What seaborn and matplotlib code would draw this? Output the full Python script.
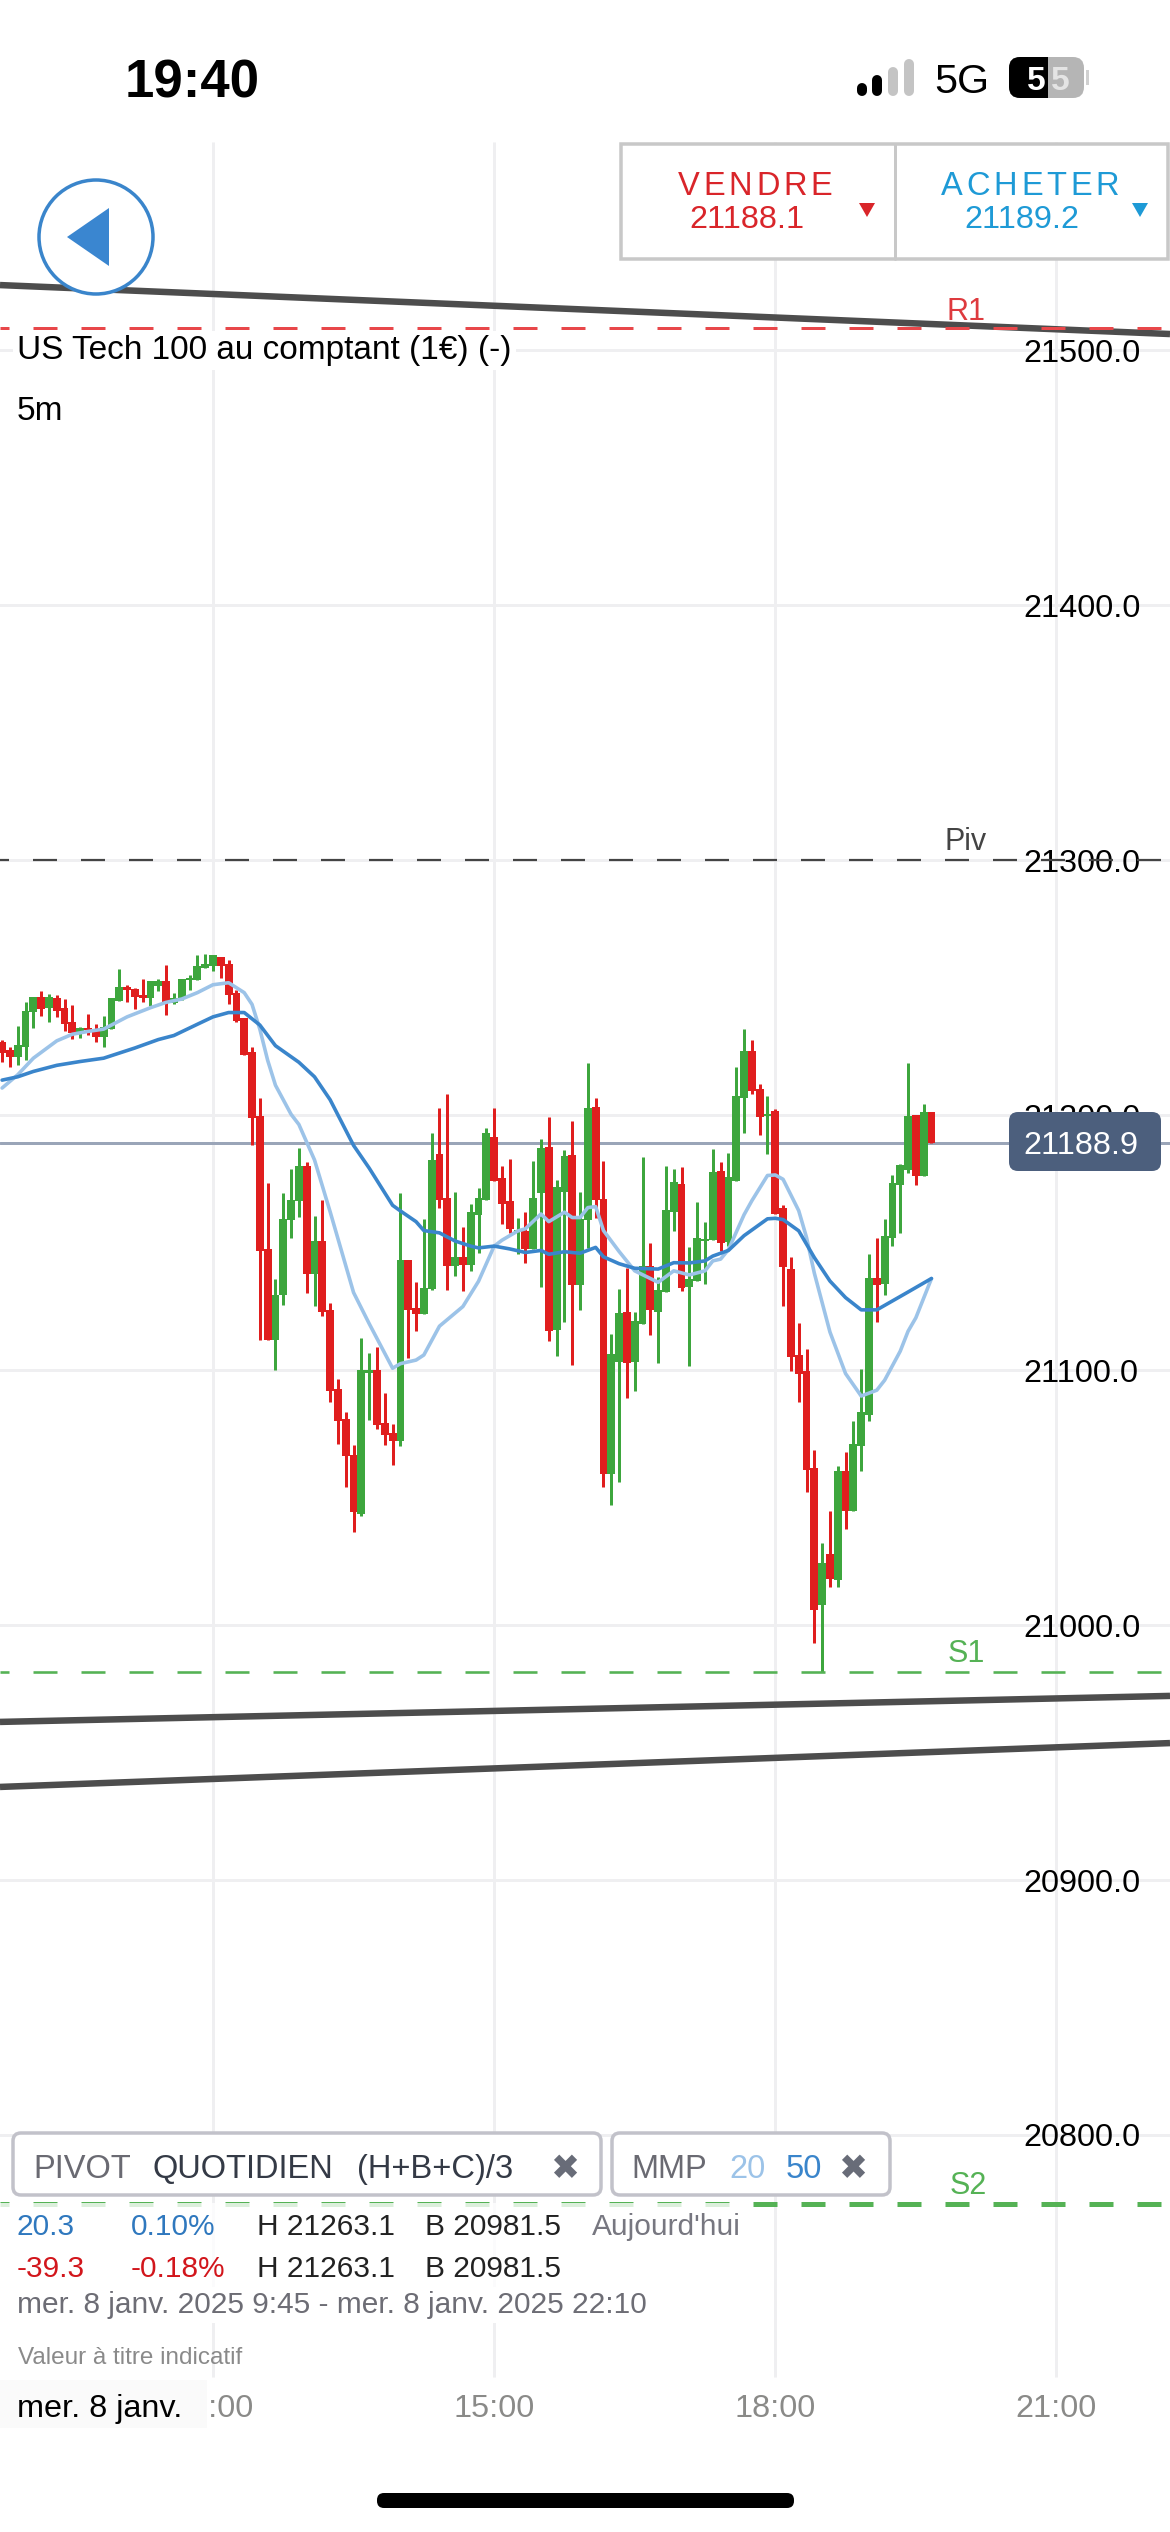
import numpy as np
import pandas as pd
import seaborn as sns
import matplotlib.pyplot as plt
from matplotlib.patches import FancyBboxPatch, Rectangle, Ellipse, Polygon

# prix, en ecart a 21000
base_price = 21000
opens = [228.8, 225.5, 222.6, 226.8, 240.5, 246.3, 242.1, 245.9, 241.8, 236.6,
         232.0, 234.0, 233.3, 230.7, 233.7, 244.6, 250.2, 249.6, 247.0, 245.9,
         250.7, 252.4, 243.9, 245.4, 252.8, 252.8, 257.6, 258.5, 262.1, 259.2,
         248.0, 238.0, 224.7, 199.5, 147.5, 111.7, 129.3, 158.9, 166.2, 180.0,
         137.7, 150.7, 123.4, 92.7, 80.8, 66.7, 43.7, 99.0, 100.0, 79.2,
         75.4, 72.2, 143.3, 124.5, 122.1, 131.8, 184.9, 167.5, 140.7, 144.2,
         141.3, 160.9, 166.7, 191.5, 175.4, 166.2, 154.1, 154.7, 147.6, 169.6,
         187.3, 115.8, 169.9, 184.3, 133.4, 158.9, 203.2, 166.9, 59.1, 103.2,
         122.7, 103.2, 117.9, 140.7, 122.8, 130.7, 162.0, 173.0, 132.5, 134.8,
         150.6, 151.0, 177.9, 150.2, 174.0, 206.7, 225.3, 210.3, 199.7, 201.6,
         163.4, 139.8, 106.0, 99.5, 61.5, 7.9, 27.7, 17.7, 60.4, 44.7,
         70.2, 82.3, 135.9, 133.6, 151.7, 172.5, 178.6, 200.0, 176.2, 201.0]
highs = [229.6, 226.8, 235.0, 244.2, 246.3, 248.6, 247.5, 247.0, 245.7, 243.1,
         234.5, 239.5, 235.6, 238.9, 245.9, 257.2, 251.1, 249.9, 253.2, 252.4,
         253.2, 258.9, 248.0, 253.2, 254.8, 262.9, 263.1, 262.9, 262.1, 261.0,
         249.1, 238.2, 226.8, 206.5, 173.5, 135.8, 169.4, 178.9, 187.0, 181.6,
         160.5, 166.5, 126.3, 96.3, 83.6, 70.6, 112.5, 106.8, 108.9, 90.9,
         78.7, 169.5, 143.3, 134.4, 159.3, 193.0, 202.9, 208.1, 169.9, 156.1,
         165.1, 171.3, 195.0, 202.9, 180.2, 182.7, 159.8, 161.9, 182.0, 190.8,
         199.2, 174.4, 186.4, 197.8, 169.9, 220.4, 206.6, 182.0, 114.2, 131.8,
         140.0, 122.7, 183.6, 149.7, 136.5, 179.9, 178.8, 179.8, 148.3, 165.8,
         157.9, 186.8, 181.6, 185.3, 218.7, 233.6, 229.3, 212.2, 207.3, 202.3,
         164.8, 144.5, 118.4, 108.2, 68.8, 32.0, 44.7, 62.2, 68.0, 79.9,
         100.4, 145.4, 151.7, 159.4, 176.5, 180.9, 220.3, 200.2, 204.2, 201.0]
lows = [220.7, 218.7, 219.8, 221.5, 234.0, 239.0, 236.4, 238.5, 232.8, 229.9,
        230.4, 231.2, 228.8, 226.8, 233.7, 244.6, 244.2, 241.5, 244.2, 242.6,
        248.6, 239.3, 243.4, 245.0, 249.1, 252.8, 257.6, 256.4, 253.7, 243.4,
        236.6, 223.6, 188.1, 111.7, 111.7, 100.0, 125.5, 151.9, 160.2, 130.4,
        125.0, 121.0, 87.6, 71.1, 54.0, 36.4, 42.9, 80.5, 76.7, 70.6,
        62.9, 70.4, 104.8, 115.3, 122.1, 131.2, 163.4, 131.4, 136.7, 130.9,
        138.7, 145.8, 166.7, 174.3, 157.2, 153.6, 145.5, 142.1, 147.6, 132.5,
        111.4, 105.4, 119.0, 101.8, 123.4, 147.9, 159.6, 54.1, 47.0, 56.1,
        89.0, 91.9, 117.9, 113.9, 102.9, 130.7, 154.7, 130.9, 101.4, 134.8,
        133.8, 151.0, 146.5, 148.6, 174.0, 192.8, 208.4, 192.0, 184.7, 161.1,
        125.2, 99.5, 87.6, 52.2, -7.0, -18.5, 15.1, 14.9, 37.8, 44.7,
        60.4, 80.2, 118.7, 129.6, 148.5, 153.8, 177.4, 172.7, 176.2, 188.9]
closes = [224.2, 222.6, 227.6, 241.0, 246.3, 241.5, 246.3, 241.0, 235.8, 232.0,
          234.0, 233.3, 230.7, 234.5, 245.9, 250.2, 249.1, 246.2, 245.9, 252.4,
          252.4, 244.2, 245.9, 253.2, 253.7, 258.5, 259.3, 262.6, 258.4, 247.0,
          236.9, 223.6, 198.7, 146.7, 111.7, 129.6, 159.3, 166.7, 180.0, 137.7,
          150.7, 122.8, 91.9, 80.0, 66.2, 44.2, 100.0, 100.0, 78.4, 74.6,
          72.2, 143.3, 123.5, 122.1, 132.0, 182.3, 166.7, 140.7, 144.4, 141.0,
          162.0, 167.5, 193.0, 174.3, 165.1, 155.4, 154.5, 147.6, 167.5, 186.9,
          115.3, 171.9, 183.9, 133.4, 159.3, 202.9, 166.7, 59.1, 106.3, 122.4,
          102.8, 119.4, 140.7, 123.5, 131.4, 162.7, 173.7, 132.0, 135.8, 151.7,
          151.3, 177.7, 149.9, 175.8, 207.3, 225.3, 209.4, 199.4, 200.6, 161.1,
          140.3, 105.3, 98.6, 60.6, 5.8, 24.5, 18.0, 60.4, 44.7, 71.1,
          83.7, 135.9, 133.3, 152.4, 173.4, 180.4, 199.6, 176.2, 201.0, 188.9]

# moyennes mobiles, releves aux bougies lisibles
mmp20_idx = [-27, -25, -23, -20, -18, -16, -14, -11, -8, -6, -4, -2, 0, 2, 4, 5, 6, 7, 8, 10, 11, 13, 15, 18, 20,
             23, 24, 26, 27, 29, 32, 34, 36, 37, 39, 40, 42, 43, 45, 46, 47, 48, 49, 50, 52, 54, 57, 59, 61, 63, 64,
             65, 66, 68, 69, 71, 72, 73, 75, 76, 77, 79, 81, 83, 85, 86, 88, 89, 90, 92]
mmp20 = [210.6, 215.8, 222.3, 229.1, 231.7, 232.8, 233.7, 238.5, 242.1, 244.2, 245.5, 248.0, 251.1, 251.9, 248.0,
         243.4, 233.7, 221.5, 211.7, 200.3, 196.3, 182.4, 162.1, 130.4, 118.2, 100.7, 102.5, 103.9, 105.9, 117.2,
         124.9, 134.8, 148.6, 150.9, 154.5, 155.4, 161.2, 158.2, 161.9, 159.8, 159.8, 163.7, 164.1, 154.7, 146.5,
         138.9, 134.4, 138.9, 137.3, 138.9, 142.8, 143.5, 147.2, 160.9, 166.4, 176.3, 176.5, 174.8, 162.5, 152.0,
         138.0, 114.9, 98.6, 89.8, 92.1, 96.0, 107.4, 115.2, 120.5, 135.9]
mmp50_idx = [-27, -25, -23, -20, -17, -14, -10, -7, -5, -2, 0, 2, 4, 6, 8, 11, 13, 15, 18, 20, 23, 24, 26, 27, 29,
             31, 33, 34, 36, 38, 40, 42, 43, 45, 47, 49, 50, 52, 54, 57, 59, 61, 63, 64, 66, 68, 71, 72, 73, 75,
             77, 79, 81, 83, 85, 87, 89, 92]
mmp50 = [213.7, 215.0, 217.1, 219.5, 221.0, 222.3, 226.3, 229.6, 231.2, 235.6, 238.5, 240.2, 240.2, 235.3, 227.2,
         220.7, 215.0, 206.0, 188.1, 179.2, 164.6, 162.4, 158.2, 154.7, 153.8, 150.6, 148.6, 147.9, 148.6, 147.5,
         146.1, 146.9, 145.4, 146.4, 145.8, 148.1, 144.4, 141.7, 139.9, 139.6, 142.1, 142.0, 142.8, 144.7, 146.9,
         152.7, 159.3, 159.5, 159.0, 154.6, 144.1, 134.9, 128.4, 123.6, 123.6, 127.1, 130.6, 135.9]

price_ticks = [21500, 21400, 21300, 21200, 21100, 21000, 20900, 20800]
time_ticks = [0, 36, 72, 108]
time_labels = ["12:00", "15:00", "18:00", "21:00"]
last_price = 21188.9
pivot_levels = {"R1": 21508.6, "Piv": 21300.0, "S1": 20981.5, "S2": 20773.0}
trend_lines = [(21525.5, 21506.3), (20962.0, 20972.2), (20936.5, 20953.7)]

RED = "#E01E1E"
GREEN = "#3DA63D"
BLUE = "#3A85CB"
LIGHT_BLUE = "#9CC3E8"

PX = 0.72  # 1 pixel en points a dpi 100
sns.set_theme(style="white")
plt.rcParams["font.family"] = ["Liberation Sans", "DejaVu Sans"]
plt.rcParams["lines.scale_dashes"] = False

df = pd.DataFrame({"idx": np.arange(-27, 93), "open": opens, "high": highs, "low": lows, "close": closes})
df[["open", "high", "low", "close"]] += base_price
df["color"] = np.where(df["close"] >= df["open"], GREEN, RED)

fig = plt.figure(figsize=(11.7, 25.32), dpi=100, facecolor="white")
ax = fig.add_axes([0, 0, 1, 1])
x_left, x_right = -27.27, 122.54
ax.set_xlim(x_left, x_right)
ax.set_ylim(20644.3, 21637.3)
for s in ax.spines.values():
    s.set_visible(False)

ax.set_yticks(price_ticks)
ax.set_yticklabels([f"{p:.1f}" for p in price_ticks])
ax.yaxis.tick_right()
ax.tick_params(axis="y", length=0, pad=-147 * PX, labelsize=23.3, labelcolor="black")
ax.set_xticks(time_ticks)
ax.set_xticklabels(time_labels)
ax.tick_params(axis="x", length=0, pad=-138 * PX, labelsize=23.3, labelcolor="#8A8A88")
ax.grid(True, axis="y", color="#EFEFF1", lw=3 * PX, zorder=0)
ax.set_axisbelow(True)
# les verticales s'arretent avant le haut et le bas de l'ecran
ax.vlines(time_ticks, 20705, 21581.6, color="#EFEFF1", lw=3 * PX, zorder=0.5)

ax.axhline(last_price, color="#9AA5B8", lw=3 * PX, zorder=1)

# bougies
ax.vlines(df["idx"], df["low"], df["high"], colors=df["color"], lw=3 * PX, zorder=2)
ax.bar(df["idx"], (df["close"] - df["open"]).abs().clip(lower=0.8), bottom=df[["open", "close"]].min(axis=1),
       width=1.0, color=df["color"], linewidth=0, zorder=2)

sns.lineplot(x=mmp20_idx, y=np.array(mmp20) + base_price, color=LIGHT_BLUE, lw=3.6 * PX, ax=ax, zorder=3,
             estimator=None)
sns.lineplot(x=mmp50_idx, y=np.array(mmp50) + base_price, color=BLUE, lw=3.6 * PX, ax=ax, zorder=3,
             estimator=None)

# pivots
pivot_styles = {"R1": ("#E8474A", 3), "Piv": ("#444444", 2.2), "S1": ("#55B255", 2.6), "S2": ("#55B255", 5)}
for name, level in pivot_levels.items():
    col, w = pivot_styles[name]
    ax.axhline(level, color=col, lw=w * PX, ls=(15 * PX, (24 * PX, 24 * PX)), zorder=5 if name == "R1" else 3)

# droites tracees a la main
for y0, y1 in trend_lines:
    ax.plot([x_left, x_right], [y0, y1], color="#4D4D4D", lw=6.5 * PX, zorder=4, solid_capstyle="butt")

# interface, en pixels
ui = fig.add_axes([0, 0, 1, 1])
ui.set_xlim(0, 1170)
ui.set_ylim(2532, 0)
ui.axis("off")
ui.patch.set_alpha(0)


def label(x, y, s, size=21.5, color="black", ha="left", zorder=10, **kw):
    return ui.text(x, y, s, fontsize=size, color=color, ha=ha, va="center_baseline", zorder=zorder, **kw)


def spaced(cx, y, s, size, color, track):
    # texte espace lettre par lettre, comme VENDRE / ACHETER
    r = fig.canvas.get_renderer()
    parts = [ui.text(0, y, c, fontsize=size, color=color, va="center_baseline", zorder=10) for c in s]
    widths = [p.get_window_extent(r).width for p in parts]
    x = cx - (sum(widths) + track * (len(s) - 1)) / 2
    for p, w in zip(parts, widths):
        p.set_x(x)
        x += w + track


def box(x0, y0, x1, y1, face="white", edge="none", lw=0, radius=8, zorder=8):
    p = FancyBboxPatch((x0 + radius, y0 + radius), x1 - x0 - 2 * radius, y1 - y0 - 2 * radius,
                       boxstyle=f"round,pad={radius},rounding_size={radius}", facecolor=face, edgecolor=edge,
                       linewidth=lw * PX, zorder=zorder)
    ui.add_patch(p)
    return p


# barre d'etat
label(125, 78, "19:40", size=38, weight="bold")
for bx, top, col in zip([862, 877, 893, 909], [83, 75, 67, 59], ["black", "black", "#C4C4C4", "#C4C4C4"]):
    ui.plot([bx, bx], [top + 5, 91], color=col, lw=10 * PX, solid_capstyle="round", zorder=9)
label(934, 78, "5G", size=29.7)
box(1009, 57, 1084, 98, face="#B5B5B5", radius=11)
black_part = box(1009, 57, 1084, 98, face="black", radius=11, zorder=9)
black_part.set_clip_path(Rectangle((1009, 57), 39, 41, transform=ui.transData))
ui.add_patch(Rectangle((1086, 70), 3, 15, color="#D0D0D0", lw=0, zorder=9))
label(1036, 78, "5", size=24, color="white", ha="center", weight="bold")
label(1060, 78, "5", size=24, color="#E4E4E4", ha="center", weight="bold")

# bouton retour
ui.add_patch(Ellipse((96, 237), 114, 114, facecolor="white", edgecolor=BLUE, lw=3.5 * PX, zorder=8))
ui.add_patch(Polygon([(67, 237), (109, 208), (109, 266)], color="#3A86D0", lw=0, zorder=9))

# boutons vendre / acheter
ui.add_patch(Rectangle((621, 144), 547, 115, facecolor="white", edgecolor="#C8C8C8", lw=3.5 * PX, zorder=8))
ui.plot([895, 895], [144, 259], color="#C8C8C8", lw=3 * PX, zorder=9)
spaced(755, 183, "VENDRE", 23.5, "#D9252A", 3.6)
spaced(1030, 183, "ACHETER", 23.5, "#1E9AD6", 3.8)
label(747, 217, "21188.1", size=23.3, color="#D9252A", ha="center")
label(1022, 217, "21189.2", size=23.3, color="#1E9AD6", ha="center")
ui.add_patch(Polygon([(859, 203), (875, 203), (867, 217)], color="#D9252A", lw=0, zorder=9))
ui.add_patch(Polygon([(1132, 203), (1148, 203), (1140, 217)], color="#1E9AD6", lw=0, zorder=9))

# titre
white_bg = dict(facecolor="white", edgecolor="none", pad=3)
label(17, 347, "US Tech 100 au comptant (1€) (-)", size=24, bbox=white_bg)
label(17, 408, "5m", size=24, bbox=white_bg)

# noms des pivots
label(966, 308, "R1", size=22, color="#DE3A3E", ha="center")
label(966, 838, "Piv", size=22, color="#444444", ha="center")
label(966, 1650, "S1", size=22, color="#55B255", ha="center")
label(968, 2183, "S2", size=22, color="#55B255", ha="center")

# etiquette du dernier prix
box(1009, 1112, 1161, 1171, face="#4C5F7D", radius=9)
label(1023, 1142, "21188.9", size=23.3, color="white", zorder=11)

# legendes
ui.add_patch(Rectangle((0, 2203), 750, 117, color="white", alpha=0.8, lw=0, zorder=6))
box(13, 2133, 601, 2195, edge="#C2C2CA", lw=3.5)
box(612, 2133, 890, 2195, edge="#C2C2CA", lw=3.5)
label(33, 2166, "PIVOT", size=23.5, color="#6A6A72")
label(152, 2166, "QUOTIDIEN", size=23.5, color="#343A46")
label(357, 2166, "(H+B+C)/3", size=23.5, color="#343A46")
label(565, 2166, "✖", size=25, color="#686C78", ha="center")
label(631, 2166, "MMP", size=23.5, color="#6A6A72")
label(729, 2166, "20", size=23.5, color=LIGHT_BLUE)
label(786, 2166, "50", size=23.5, color=BLUE)
label(853, 2166, "✖", size=25, color="#686C78", ha="center")

# infos
label(17, 2224, "20.3", color="#2F78BE")
label(131, 2224, "0.10%", color="#2F78BE")
label(257, 2224, "H 21263.1", color="#222222")
label(425, 2224, "B 20981.5", color="#222222")
label(592, 2224, "Aujourd'hui", color="#777780")
label(17, 2266, "-39.3", color="#D2161C")
label(131, 2266, "-0.18%", color="#D2161C")
label(257, 2266, "H 21263.1", color="#222222")
label(425, 2266, "B 20981.5", color="#222222")
label(17, 2302, "mer. 8 janv. 2025 9:45 - mer. 8 janv. 2025 22:10", color="#6D6D75", bbox=white_bg)
label(18, 2356, "Valeur à titre indicatif", size=17.5, color="#8A8A8A")

ui.add_patch(Rectangle((0, 2380), 207, 48, color="#FAFAFA", lw=0, zorder=8))
label(17, 2406, "mer. 8 janv.", size=23.3)

# barre d'accueil
box(377, 2493, 794, 2508, face="black", radius=7)

fig.savefig("out.png", dpi=100)
